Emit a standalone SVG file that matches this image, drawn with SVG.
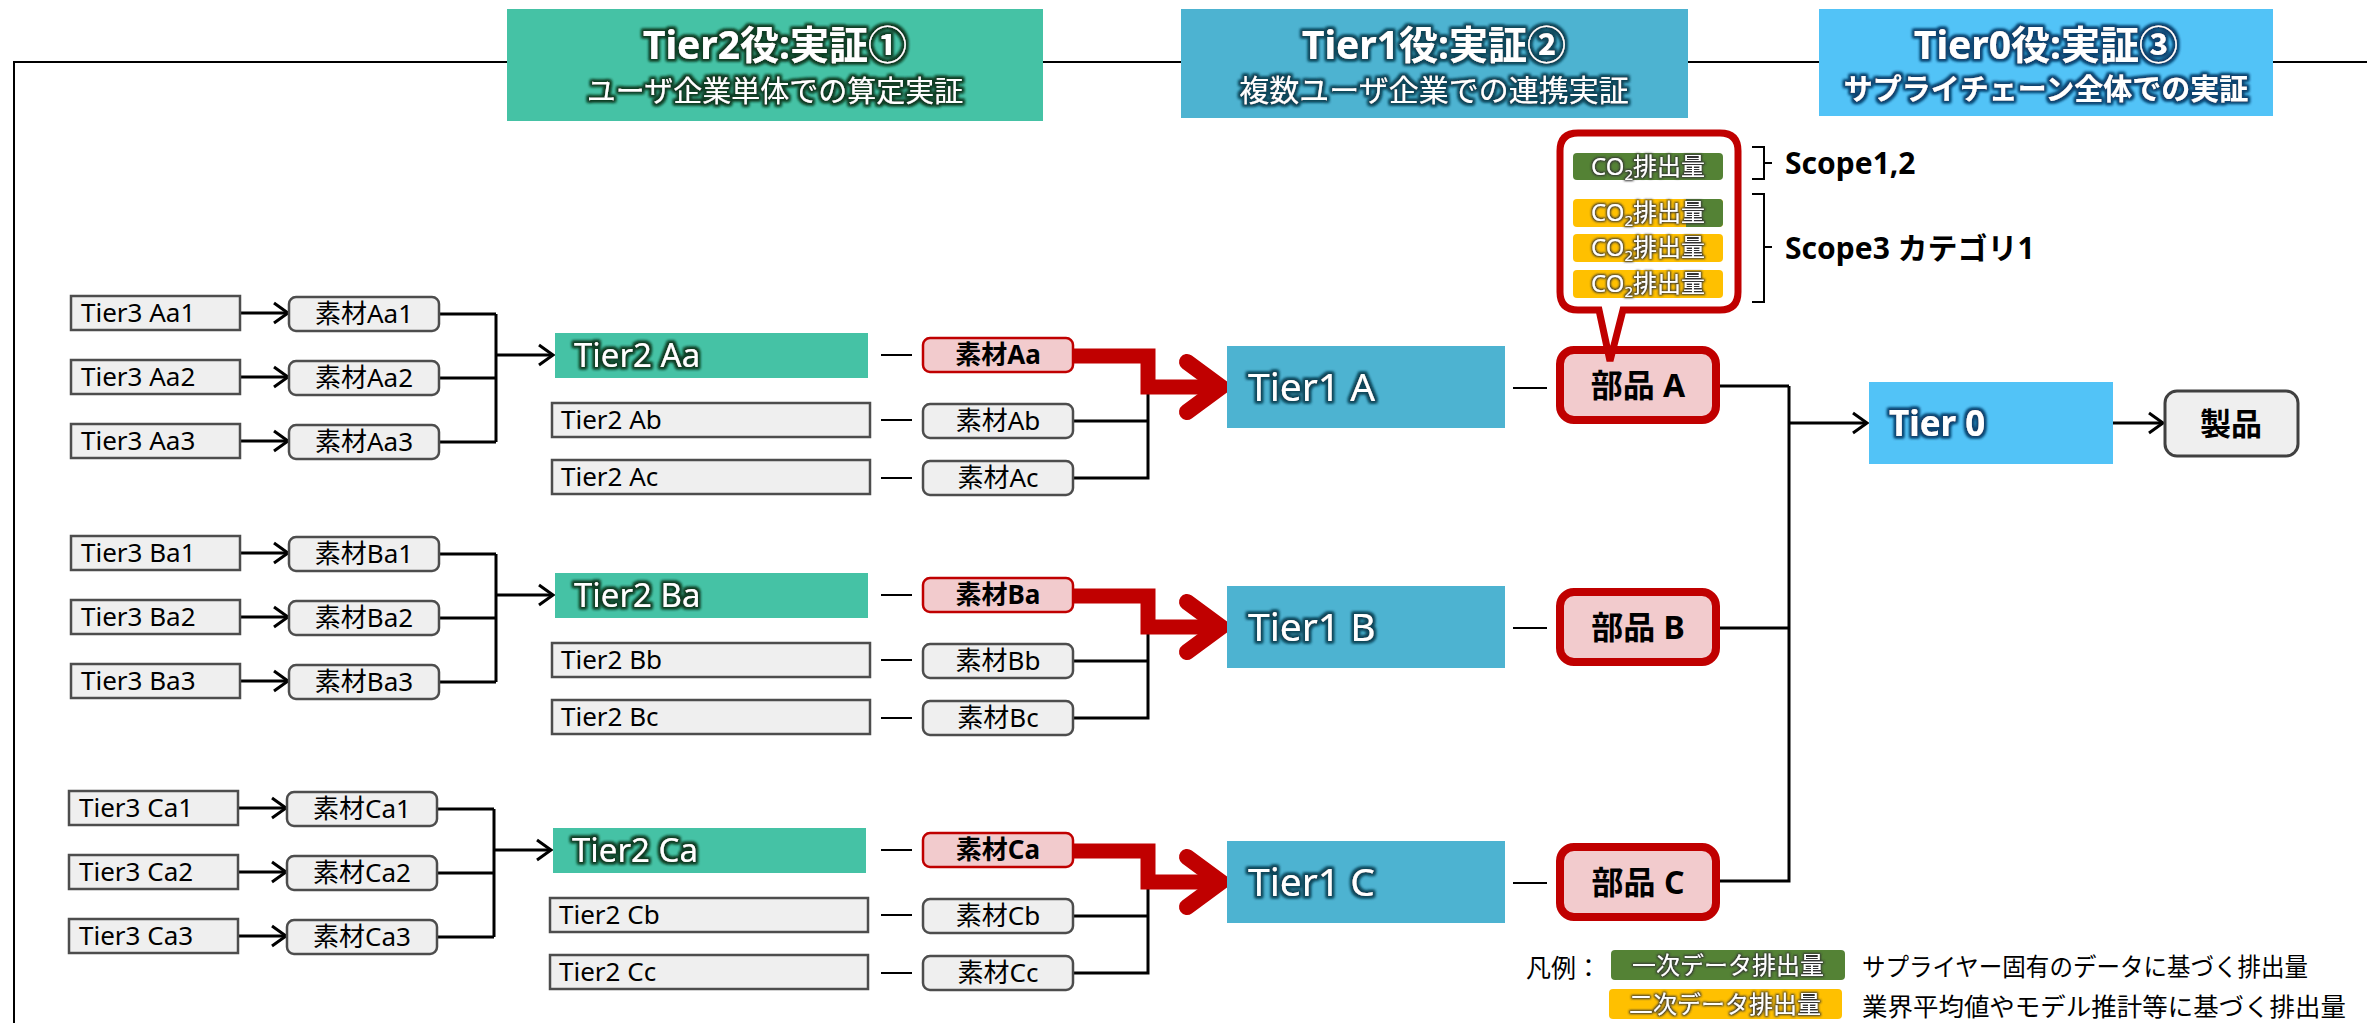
<svg xmlns="http://www.w3.org/2000/svg" width="2367" height="1023" viewBox="0 0 2367 1023">
<style>
.f{font-family:'Noto Sans','Noto Sans CJK JP',sans-serif}
.g3{fill:#EFEFEF;stroke:#4D4D4D;stroke-width:2.5}
.mr{fill:#F2CBCD;stroke:#C00000;stroke-width:2.5}
.t2{fill:#45C2A5}
.t1{fill:#4DB3D1}
.t0{fill:#52C3F7}
.pt{fill:#F2CBCD;stroke:#C00000;stroke-width:8}
.s{font-size:26px;fill:#000}
.sb{font-size:26px;fill:#000;font-weight:bold}
.w2{font-size:33px;fill:#fff}
.w1{font-size:39px;fill:#fff}
.pb{font-size:32px;font-weight:bold;fill:#000}
.ln{fill:none;stroke:#000;stroke-width:3}
.th{fill:none;stroke:#000;stroke-width:2}
.red{fill:none;stroke:#C00000;stroke-width:15}
.chev{fill:none;stroke:#C00000;stroke-width:16;stroke-linecap:round;stroke-linejoin:miter}
.bt{font-size:24px;fill:#fff}
</style>
<defs>
<marker id="arr" markerUnits="userSpaceOnUse" markerWidth="24" markerHeight="24" viewBox="0 0 24 24" refX="20" refY="12" orient="auto" overflow="visible">
<path d="M6,2 L20,12 L6,22" fill="none" stroke="#000" stroke-width="3"/>
</marker>
<filter id="gG" x="-10%" y="-30%" width="120%" height="160%">
<feMorphology in="SourceAlpha" operator="dilate" radius="1.5" result="d"/>
<feGaussianBlur in="d" stdDeviation="1.6" result="b"/>
<feFlood flood-color="#123F26"/>
<feComposite in2="b" operator="in" result="g"/>
<feMerge><feMergeNode in="g"/><feMergeNode in="g"/><feMergeNode in="SourceGraphic"/></feMerge>
</filter>
<filter id="gT" x="-10%" y="-30%" width="120%" height="160%">
<feMorphology in="SourceAlpha" operator="dilate" radius="1.5" result="d"/>
<feGaussianBlur in="d" stdDeviation="1.6" result="b"/>
<feFlood flood-color="#10475A"/>
<feComposite in2="b" operator="in" result="g"/>
<feMerge><feMergeNode in="g"/><feMergeNode in="g"/><feMergeNode in="SourceGraphic"/></feMerge>
</filter>
<filter id="gB" x="-10%" y="-30%" width="120%" height="160%">
<feMorphology in="SourceAlpha" operator="dilate" radius="1.5" result="d"/>
<feGaussianBlur in="d" stdDeviation="1.6" result="b"/>
<feFlood flood-color="#0B4470"/>
<feComposite in2="b" operator="in" result="g"/>
<feMerge><feMergeNode in="g"/><feMergeNode in="g"/><feMergeNode in="SourceGraphic"/></feMerge>
</filter>
<filter id="gK" x="-10%" y="-30%" width="120%" height="160%">
<feMorphology in="SourceAlpha" operator="dilate" radius="1" result="d"/>
<feGaussianBlur in="d" stdDeviation="1" result="b"/>
<feFlood flood-color="#333"/>
<feComposite in2="b" operator="in" result="g"/>
<feMerge><feMergeNode in="g"/><feMergeNode in="SourceGraphic"/></feMerge>
</filter>
</defs>
<rect width="2367" height="1023" fill="#fff"/>

<g id="connectors">
<path class="th" d="M14,1023 V62 H507 M1043,62 H1181 M1688,62 H1819 M2273,62 H2367"/>
<!-- group A -->
<path class="ln" marker-end="url(#arr)" d="M240,313 H288"/>
<path class="ln" marker-end="url(#arr)" d="M240,377 H288"/>
<path class="ln" marker-end="url(#arr)" d="M240,441 H288"/>
<path class="ln" d="M439,314 H496 M439,378 H496 M439,442 H496 M496,314 V442"/>
<path class="ln" marker-end="url(#arr)" d="M496,355 H553"/>
<path class="th" d="M881,355 H912 M881,420 H912 M881,478 H912"/>
<path class="ln" d="M1073,421 H1148 M1073,478 H1148 M1148,387 V479.5"/>
<path class="red" d="M1073,356 H1148 V387 H1212"/>
<path class="chev" d="M1187,362 L1221,387 L1187,412"/>
<path class="th" d="M1513,388 H1547"/>
<!-- group B -->
<path class="ln" marker-end="url(#arr)" d="M240,553 H288"/>
<path class="ln" marker-end="url(#arr)" d="M240,617 H288"/>
<path class="ln" marker-end="url(#arr)" d="M240,681 H288"/>
<path class="ln" d="M439,554 H496 M439,618 H496 M439,682 H496 M496,554 V682"/>
<path class="ln" marker-end="url(#arr)" d="M496,595 H553"/>
<path class="th" d="M881,595 H912 M881,660 H912 M881,718 H912"/>
<path class="ln" d="M1073,661 H1148 M1073,718 H1148 M1148,627 V719.5"/>
<path class="red" d="M1073,596 H1148 V627 H1212"/>
<path class="chev" d="M1187,602 L1221,627 L1187,652"/>
<path class="th" d="M1513,628 H1547"/>
<!-- group C -->
<path class="ln" marker-end="url(#arr)" d="M238,808 H286"/>
<path class="ln" marker-end="url(#arr)" d="M238,872 H286"/>
<path class="ln" marker-end="url(#arr)" d="M238,936 H286"/>
<path class="ln" d="M437,809 H494 M437,873 H494 M437,937 H494 M494,809 V937"/>
<path class="ln" marker-end="url(#arr)" d="M494,850 H551"/>
<path class="th" d="M881,850 H912 M881,915 H912 M881,973 H912"/>
<path class="ln" d="M1073,916 H1148 M1073,973 H1148 M1148,882 V974.5"/>
<path class="red" d="M1073,851 H1148 V882 H1212"/>
<path class="chev" d="M1187,857 L1221,882 L1187,907"/>
<path class="th" d="M1513,883 H1547"/>
<!-- right side -->
<path class="ln" d="M1716,386 H1789 M1716,628 H1789 M1716,881 H1789 M1789,386 V882.5"/>
<path class="ln" marker-end="url(#arr)" d="M1789,423 H1867"/>
<path class="ln" marker-end="url(#arr)" d="M2113,423 H2163"/>
<!-- scope brackets -->
<path class="th" d="M1752,147 H1764 V179 H1752 M1764,163 H1772"/>
<path class="th" d="M1752,194 H1764 V302 H1752 M1764,247 H1772"/>
</g>

<!-- headers -->
<g id="hdr-tier2">
<rect class="t2" x="507" y="9" width="536" height="112"/>
<g filter="url(#gG)" class="f" fill="#fff" text-anchor="middle">
<text x="775" y="59" font-size="39" font-weight="bold">Tier2役:実証①</text>
<text x="775" y="102" font-size="29">ユーザ企業単体での算定実証</text>
</g>
</g>
<g id="hdr-tier1">
<rect class="t1" x="1181" y="9" width="507" height="109"/>
<g filter="url(#gT)" class="f" fill="#fff" text-anchor="middle">
<text x="1434" y="59" font-size="39" font-weight="bold">Tier1役:実証②</text>
<text x="1434" y="101" font-size="30">複数ユーザ企業での連携実証</text>
</g>
</g>
<g id="hdr-tier0">
<rect class="t0" x="1819" y="9" width="454" height="107"/>
<g filter="url(#gB)" class="f" fill="#fff" text-anchor="middle">
<text x="2046" y="59" font-size="39" font-weight="bold">Tier0役:実証③</text>
<text x="2046" y="100" font-size="29" font-weight="bold">サプライチェーン全体での実証</text>
</g>
</g>

<!-- group A nodes -->
<g id="tier3-aa1"><rect class="g3" x="71" y="296" width="169" height="34"/><text class="f s" x="81" y="322">Tier3 Aa1</text></g>
<g id="tier3-aa2"><rect class="g3" x="71" y="360" width="169" height="34"/><text class="f s" x="81" y="386">Tier3 Aa2</text></g>
<g id="tier3-aa3"><rect class="g3" x="71" y="424" width="169" height="34"/><text class="f s" x="81" y="450">Tier3 Aa3</text></g>
<g id="mat-aa1"><rect class="g3" x="289" y="297" width="150" height="34" rx="7"/><text class="f s" x="364" y="323" text-anchor="middle">素材Aa1</text></g>
<g id="mat-aa2"><rect class="g3" x="289" y="361" width="150" height="34" rx="7"/><text class="f s" x="364" y="387" text-anchor="middle">素材Aa2</text></g>
<g id="mat-aa3"><rect class="g3" x="289" y="425" width="150" height="34" rx="7"/><text class="f s" x="364" y="451" text-anchor="middle">素材Aa3</text></g>
<g id="tier2-aa"><rect class="t2" x="555" y="333" width="313" height="45"/><text class="f w2" x="574" y="367" filter="url(#gG)">Tier2 Aa</text></g>
<g id="tier2-ab"><rect class="g3" x="552" y="403" width="318" height="34"/><text class="f s" x="561" y="429">Tier2 Ab</text></g>
<g id="tier2-ac"><rect class="g3" x="552" y="460" width="318" height="34"/><text class="f s" x="561" y="486">Tier2 Ac</text></g>
<g id="mat-aa"><rect class="mr" x="923" y="338" width="150" height="34" rx="7"/><text class="f sb" x="998" y="364" text-anchor="middle">素材Aa</text></g>
<g id="mat-ab"><rect class="g3" x="923" y="404" width="150" height="34" rx="7"/><text class="f s" x="998" y="430" text-anchor="middle">素材Ab</text></g>
<g id="mat-ac"><rect class="g3" x="923" y="461" width="150" height="34" rx="7"/><text class="f s" x="998" y="487" text-anchor="middle">素材Ac</text></g>
<g id="tier1-a"><rect class="t1" x="1227" y="346" width="278" height="82"/><text class="f w1" x="1248" y="401" filter="url(#gT)">Tier1 A</text></g>
<g id="part-a"><rect class="pt" x="1560" y="350" width="156" height="70" rx="14"/><text class="f pb" x="1638" y="397" text-anchor="middle">部品 A</text></g>

<!-- group B nodes -->
<g id="tier3-ba1"><rect class="g3" x="71" y="536" width="169" height="34"/><text class="f s" x="81" y="562">Tier3 Ba1</text></g>
<g id="tier3-ba2"><rect class="g3" x="71" y="600" width="169" height="34"/><text class="f s" x="81" y="626">Tier3 Ba2</text></g>
<g id="tier3-ba3"><rect class="g3" x="71" y="664" width="169" height="34"/><text class="f s" x="81" y="690">Tier3 Ba3</text></g>
<g id="mat-ba1"><rect class="g3" x="289" y="537" width="150" height="34" rx="7"/><text class="f s" x="364" y="563" text-anchor="middle">素材Ba1</text></g>
<g id="mat-ba2"><rect class="g3" x="289" y="601" width="150" height="34" rx="7"/><text class="f s" x="364" y="627" text-anchor="middle">素材Ba2</text></g>
<g id="mat-ba3"><rect class="g3" x="289" y="665" width="150" height="34" rx="7"/><text class="f s" x="364" y="691" text-anchor="middle">素材Ba3</text></g>
<g id="tier2-ba"><rect class="t2" x="555" y="573" width="313" height="45"/><text class="f w2" x="574" y="607" filter="url(#gG)">Tier2 Ba</text></g>
<g id="tier2-bb"><rect class="g3" x="552" y="643" width="318" height="34"/><text class="f s" x="561" y="669">Tier2 Bb</text></g>
<g id="tier2-bc"><rect class="g3" x="552" y="700" width="318" height="34"/><text class="f s" x="561" y="726">Tier2 Bc</text></g>
<g id="mat-ba"><rect class="mr" x="923" y="578" width="150" height="34" rx="7"/><text class="f sb" x="998" y="604" text-anchor="middle">素材Ba</text></g>
<g id="mat-bb"><rect class="g3" x="923" y="644" width="150" height="34" rx="7"/><text class="f s" x="998" y="670" text-anchor="middle">素材Bb</text></g>
<g id="mat-bc"><rect class="g3" x="923" y="701" width="150" height="34" rx="7"/><text class="f s" x="998" y="727" text-anchor="middle">素材Bc</text></g>
<g id="tier1-b"><rect class="t1" x="1227" y="586" width="278" height="82"/><text class="f w1" x="1248" y="641" filter="url(#gT)">Tier1 B</text></g>
<g id="part-b"><rect class="pt" x="1560" y="592" width="156" height="70" rx="14"/><text class="f pb" x="1638" y="639" text-anchor="middle">部品 B</text></g>

<!-- group C nodes -->
<g id="tier3-ca1"><rect class="g3" x="69" y="791" width="169" height="34"/><text class="f s" x="79" y="817">Tier3 Ca1</text></g>
<g id="tier3-ca2"><rect class="g3" x="69" y="855" width="169" height="34"/><text class="f s" x="79" y="881">Tier3 Ca2</text></g>
<g id="tier3-ca3"><rect class="g3" x="69" y="919" width="169" height="34"/><text class="f s" x="79" y="945">Tier3 Ca3</text></g>
<g id="mat-ca1"><rect class="g3" x="287" y="792" width="150" height="34" rx="7"/><text class="f s" x="362" y="818" text-anchor="middle">素材Ca1</text></g>
<g id="mat-ca2"><rect class="g3" x="287" y="856" width="150" height="34" rx="7"/><text class="f s" x="362" y="882" text-anchor="middle">素材Ca2</text></g>
<g id="mat-ca3"><rect class="g3" x="287" y="920" width="150" height="34" rx="7"/><text class="f s" x="362" y="946" text-anchor="middle">素材Ca3</text></g>
<g id="tier2-ca"><rect class="t2" x="553" y="828" width="313" height="45"/><text class="f w2" x="572" y="862" filter="url(#gG)">Tier2 Ca</text></g>
<g id="tier2-cb"><rect class="g3" x="550" y="898" width="318" height="34"/><text class="f s" x="559" y="924">Tier2 Cb</text></g>
<g id="tier2-cc"><rect class="g3" x="550" y="955" width="318" height="34"/><text class="f s" x="559" y="981">Tier2 Cc</text></g>
<g id="mat-ca"><rect class="mr" x="923" y="833" width="150" height="34" rx="7"/><text class="f sb" x="998" y="859" text-anchor="middle">素材Ca</text></g>
<g id="mat-cb"><rect class="g3" x="923" y="899" width="150" height="34" rx="7"/><text class="f s" x="998" y="925" text-anchor="middle">素材Cb</text></g>
<g id="mat-cc"><rect class="g3" x="923" y="956" width="150" height="34" rx="7"/><text class="f s" x="998" y="982" text-anchor="middle">素材Cc</text></g>
<g id="tier1-c"><rect class="t1" x="1227" y="841" width="278" height="82"/><text class="f w1" x="1248" y="896" filter="url(#gT)">Tier1 C</text></g>
<g id="part-c"><rect class="pt" x="1560" y="847" width="156" height="70" rx="14"/><text class="f pb" x="1638" y="894" text-anchor="middle">部品 C</text></g>

<!-- tier 0 and product -->
<g id="tier0"><rect class="t0" x="1869" y="382" width="244" height="82"/><text class="f" x="1889" y="436" font-size="35" font-weight="bold" fill="#fff" filter="url(#gB)">Tier 0</text></g>
<g id="product"><rect x="2165" y="391" width="133" height="65" rx="12" fill="#EFEFEF" stroke="#404040" stroke-width="3"/><text class="f" x="2231" y="435" font-size="31" font-weight="bold" text-anchor="middle">製品</text></g>

<!-- callout -->
<g id="callout">
<path d="M1578,133 H1720 Q1738,133 1738,151 V292 Q1738,310 1720,310 H1623 L1610,361 L1599,310 H1578 Q1560,310 1560,292 V151 Q1560,133 1578,133 Z" fill="#fff" stroke="#C00000" stroke-width="7" stroke-linejoin="miter"/>
<rect x="1573" y="153" width="150" height="27" rx="4" fill="#548235"/>
<rect x="1573" y="199" width="150" height="28" rx="4" fill="#FFC000"/>
<path d="M1686,199 H1719 Q1723,199 1723,203 V223 Q1723,227 1719,227 H1686 Z" fill="#548235"/>
<rect x="1573" y="234" width="150" height="28" rx="4" fill="#FFC000"/>
<rect x="1573" y="270" width="150" height="28" rx="4" fill="#FFC000"/>
<g class="f bt" text-anchor="middle" filter="url(#gK)">
<text x="1648" y="175">CO<tspan font-size="15" dy="5">2</tspan><tspan dy="-5">排出量</tspan></text>
<text x="1648" y="221">CO<tspan font-size="15" dy="5">2</tspan><tspan dy="-5">排出量</tspan></text>
<text x="1648" y="256">CO<tspan font-size="15" dy="5">2</tspan><tspan dy="-5">排出量</tspan></text>
<text x="1648" y="292">CO<tspan font-size="15" dy="5">2</tspan><tspan dy="-5">排出量</tspan></text>
</g>
</g>
<g id="scope-labels" class="f" font-size="30" font-weight="bold">
<text x="1785" y="174">Scope1,2</text>
<text x="1785" y="259">Scope3 カテゴリ1</text>
</g>

<!-- legend -->
<g id="legend" class="f">
<text x="1526" y="977" font-size="25">凡例：</text>
<rect x="1611" y="950" width="234" height="30" rx="4" fill="#548235"/>
<rect x="1609" y="989" width="233" height="30" rx="4" fill="#FFC000"/>
<g font-size="24" fill="#fff" text-anchor="middle" filter="url(#gK)">
<text x="1728" y="974">一次データ排出量</text>
<text x="1725" y="1013">二次データ排出量</text>
</g>
<text x="1862" y="976" font-size="25" textLength="446" lengthAdjust="spacingAndGlyphs">サプライヤー固有のデータに基づく排出量</text>
<text x="1862" y="1016" font-size="25" textLength="484" lengthAdjust="spacingAndGlyphs">業界平均値やモデル推計等に基づく排出量</text>
</g>
</svg>
